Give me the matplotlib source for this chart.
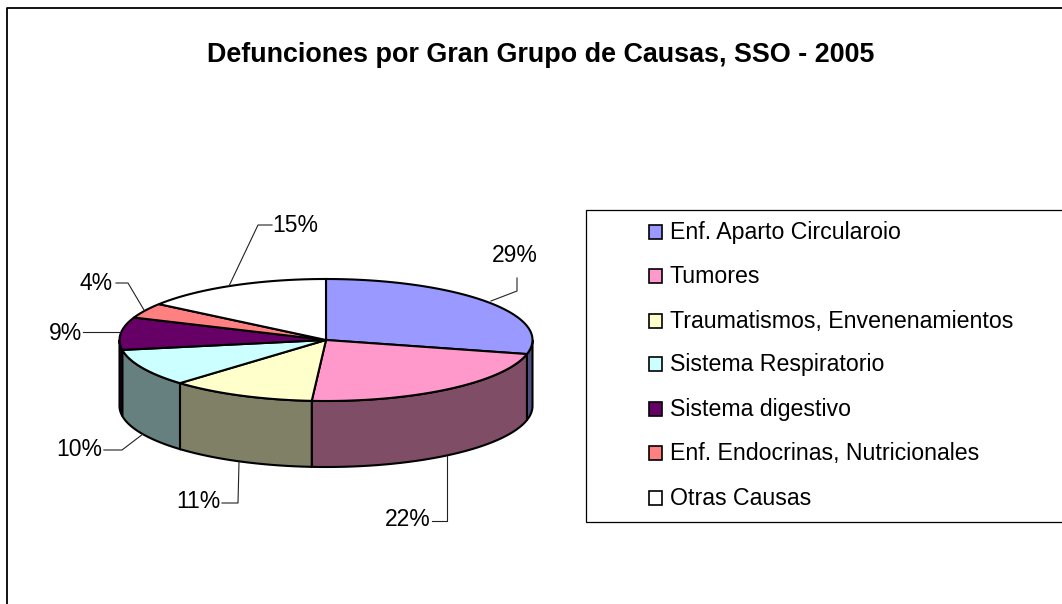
import numpy as np
import matplotlib
matplotlib.use('Agg')
import matplotlib.pyplot as plt
from matplotlib.patches import Polygon, Rectangle

plt.rcParams['font.family'] = ['Liberation Sans', 'DejaVu Sans']

causas = ['Enf. Aparto Circularoio', 'Tumores', 'Traumatismos, Envenenamientos',
          'Sistema Respiratorio', 'Sistema digestivo',
          'Enf. Endocrinas, Nutricionales', 'Otras Causas']
valores = [28.7, 22.4, 11.4, 9.9, 8.6, 4.0, 15.0]
colores = ['#9999FF', '#FF99CC', '#FFFFCC', '#CCFFFF', '#660066', '#FF8080', '#FFFFFF']

# label position and leader line per slice, in pixels
pos_etiq = [(515, 255), (408, 519), (198, 501), (79, 449), (65, 332), (96, 283), (295, 224)]
lineas = [[(517, 278), (517, 291), (491, 301)],
          [(447, 456), (447, 521), (432, 521)],
          [(239, 462), (238, 503), (222, 503)],
          [(143, 434), (122, 450), (104, 450)],
          [(120, 332), (83, 332)],
          [(144, 310), (128, 283), (116, 283)],
          [(229, 286), (258, 225), (272, 225)]]

cx, cy = 326, 340
rx, ry = 206.5, 61
alto = 66

fig = plt.figure(figsize=(10.62, 6.04), dpi=100)
ax = fig.add_axes([0, 0, 1, 1])
ax.set_xlim(0, 1062)
ax.set_ylim(604, 0)
ax.axis('off')


def borde(t, dy=0):
    return np.column_stack([cx + rx * np.sin(t), cy + dy - ry * np.cos(t)])


def oscuro(c):
    return tuple(v * 0.5 for v in matplotlib.colors.to_rgb(c))


# outer frame
ax.plot([6.5, 6.5, 1062], [604, 7.5, 7.5], color='black', lw=1.3, zorder=1)

cortes = np.cumsum([0] + valores) / sum(valores) * 2 * np.pi

# side walls first
for i in range(len(valores)):
    a = max(cortes[i], np.pi / 2)
    b = min(cortes[i + 1], 3 * np.pi / 2)
    if b <= a:
        continue
    t = np.linspace(a, b, 80)
    pts = np.vstack([borde(t), borde(t[::-1], alto)])
    ax.add_patch(Polygon(pts, closed=True, fc=oscuro(colores[i]), ec='black', lw=1.5, zorder=2))

# top faces
for i in range(len(valores)):
    t = np.linspace(cortes[i], cortes[i + 1], 120)
    pts = np.vstack([[cx, cy], borde(t)])
    ax.add_patch(Polygon(pts, closed=True, fc=colores[i], ec='black', lw=1.5, zorder=3))

# percent labels
for v, p, l in zip(valores, pos_etiq, lineas):
    l = np.array(l)
    ax.plot(l[:, 0], l[:, 1], color='#222222', lw=0.8, zorder=4)
    ax.text(p[0], p[1] + 1, '%d%%' % round(v), fontsize=16.5, ha='center', va='center', color='black')

ax.text(541, 55, 'Defunciones por Gran Grupo de Causas, SSO - 2005', fontsize=19.4,
        fontweight='bold', ha='center', va='center')

# legend
ax.add_patch(Rectangle((585.5, 209.5), 480, 312, fc='white', ec='black', lw=0.9, zorder=1))
fila_y = [231, 275, 320, 363, 408, 452, 497]
for nombre, color, y in zip(causas, colores, fila_y):
    ax.add_patch(Rectangle((648.5, y - 6.5), 13.5, 14, fc=color, ec='black', lw=1.2, zorder=3))
    ax.text(670, y + 8, nombre, fontsize=16.7, ha='left', va='baseline')

fig.savefig('out.png', dpi=100, facecolor='white')
